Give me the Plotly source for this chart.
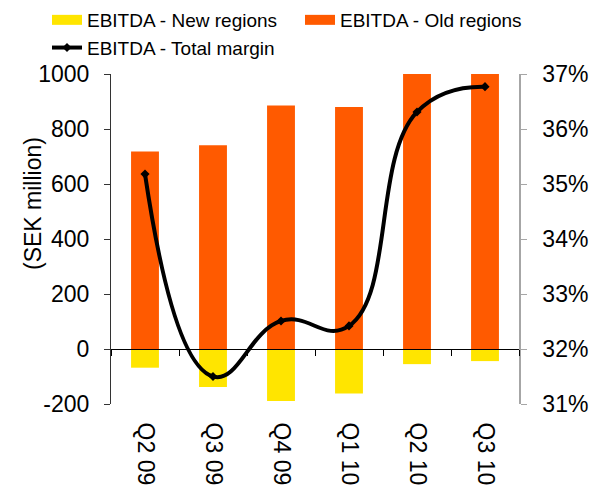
import plotly.graph_objects as go

quarters = ["Q2 09", "Q3 09", "Q4 09", "Q1 10", "Q2 10", "Q3 10"]
ebitda_new = [-68, -138, -189, -162, -55, -44]
ebitda_old = [718, 741, 885, 880, 1000, 1000]
total_margin = [35.18, 31.50, 32.51, 32.42, 36.31, 36.77]
sek_ticks = [-200, 0, 200, 400, 600, 800, 1000]
pct_ticks = [31, 32, 33, 34, 35, 36, 37]

FONT = "Liberation Sans, Arial, sans-serif"
YELLOW = "#FFE500"
ORANGE = "#FF5A00"

W, H = 592, 492
ML, MR, MT, MB = 111, 73, 74, 88
pw, ph = W - ML - MR, H - MT - MB

fig = go.Figure()
# bars (legend entries are drawn as wide swatches below)
fig.add_trace(go.Bar(
    x=quarters, y=ebitda_new, name="EBITDA - New regions", showlegend=False,
    marker=dict(color=YELLOW, line=dict(width=0)),
))
fig.add_trace(go.Bar(
    x=quarters, y=ebitda_old, name="EBITDA - Old regions", showlegend=False,
    marker=dict(color=ORANGE, line=dict(width=0)),
))
# legend swatches: wide colour blocks
for name, color in [("EBITDA - New regions", YELLOW), ("EBITDA - Old regions", ORANGE)]:
    fig.add_trace(go.Scatter(
        x=[None], y=[None], name=name, mode="lines",
        line=dict(color=color, width=12), hoverinfo="skip",
    ))
fig.add_trace(go.Scatter(
    x=quarters, y=total_margin, name="EBITDA - Total margin", yaxis="y2",
    mode="lines+markers", line=dict(color="black", width=4, shape="spline", smoothing=1.3),
    marker=dict(symbol="diamond", size=7, color="black"),
))

ymin, ymax = -200, 1000
zero_pos = (0 - ymin) / (ymax - ymin)

fig.update_layout(
    width=W, height=H,
    margin=dict(l=ML, r=MR, t=MT, b=MB, autoexpand=False),
    paper_bgcolor="white", plot_bgcolor="white",
    barmode="relative", bargap=0.59,
    font=dict(family=FONT, size=23, color="black"),
    showlegend=True,
    legend=dict(
        orientation="h", x=(47 - ML) / pw, xanchor="left",
        yref="paper", y=(H - MB - 1) / ph, yanchor="top",
        font=dict(size=19, family=FONT), entrywidth=208,
        itemwidth=30, traceorder="normal", tracegroupgap=0,
        bgcolor="rgba(0,0,0,0)",
    ),
    xaxis=dict(
        type="category", range=[-0.5, 5.5],
        anchor="free", position=zero_pos,
        showline=True, linecolor="black", linewidth=1,
        ticks="outside", ticklen=6, tickcolor="black", tickson="boundaries",
        tickangle=90, ticklabelstandoff=68,
        tickfont=dict(size=23), showgrid=False, zeroline=False,
    ),
    yaxis=dict(
        range=[ymin, ymax], tickvals=sek_ticks,
        ticktext=[str(v) for v in sek_ticks],
        showline=True, linecolor="#333333", linewidth=1,
        ticks="outside", ticklen=6, tickcolor="#333333", ticklabelstandoff=10,
        showgrid=False, zeroline=False,
    ),
    yaxis2=dict(
        range=[31, 37], tickvals=pct_ticks,
        ticktext=[f"{v}%" for v in pct_ticks], overlaying="y", side="right",
        showline=True, linecolor="#A6A6A6", linewidth=1.5,
        ticks="outside", ticklen=6, tickcolor="#A6A6A6", ticklabelstandoff=11,
        showgrid=False, zeroline=False,
    ),
    annotations=[dict(
        text="(SEK million)", textangle=-90, showarrow=False,
        xref="paper", yref="paper",
        x=(33 - ML) / pw, y=(H - MB - 204) / ph,
        xanchor="center", yanchor="middle",
        font=dict(size=23, family=FONT),
    )],
)

fig.write_html("out.html")
